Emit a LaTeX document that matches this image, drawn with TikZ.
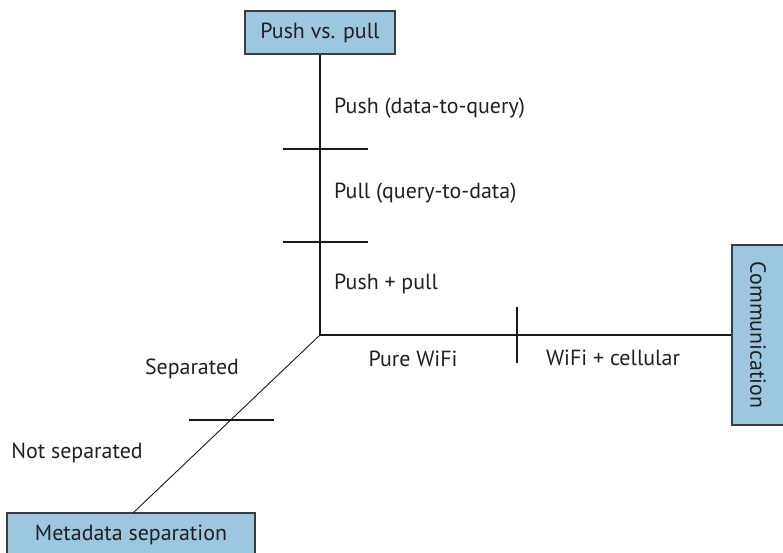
\documentclass[tikz,border=0pt]{standalone}
\usepackage{fontspec}
\setmainfont{PT Sans}
\definecolor{boxblue}{RGB}{156,199,222}
\definecolor{boxline}{RGB}{60,60,60}
\definecolor{txt}{RGB}{35,31,32}
\begin{document}
\begin{tikzpicture}[x=1bp,y=-1bp,
  box/.style={draw=boxline, line width=1.2bp, fill=boxblue, inner sep=0pt, text=txt, font=\fontsize{22}{26}\selectfont},
  lbl/.style={inner sep=0pt, text=txt, font=\fontsize{22}{26}\selectfont},
  axis/.style={line width=1.7bp, draw=black!90},
  diag/.style={line width=0.9bp, draw=black!90}]
\useasboundingbox (0,0) rectangle (783,553);
\node[box, minimum width=150bp, minimum height=43bp] (pp) at (320,32.5) {Push vs. pull};
\node[box, minimum width=52bp, minimum height=180bp] (comm) at (758,335) {\rotatebox{-90}{Communication}};
\node[box, minimum width=248bp, minimum height=43bp] (meta) at (131,534.5) {Metadata separation};
\coordinate (o) at (320,335);
\coordinate (d) at (133,513);
\draw[axis] (pp.south) -- (o);
\draw[axis] (o) -- (comm.west);
\draw[diag] (o) -- (d);
% ticks
\coordinate (t1a) at (283,149); \coordinate (t1b) at (368,149);
\coordinate (t2a) at (283,242); \coordinate (t2b) at (368,242);
\coordinate (t3a) at (517,307); \coordinate (t3b) at (517,363);
\coordinate (t4a) at (189,420); \coordinate (t4b) at (274,420);
\draw[axis] (t1a) -- (t1b);
\draw[axis] (t2a) -- (t2b);
\draw[axis] (t3a) -- (t3b);
\draw[axis] (t4a) -- (t4b);
% labels
\node[lbl, anchor=west] (l1) at (334,108) {Push (data-to-query)};
\node[lbl, anchor=west] (l2) at (334,193) {Pull (query-to-data)};
\node[lbl, anchor=west] (l3) at (334,284) {Push + pull};
\node[lbl] (l4) at (413,359) {Pure WiFi};
\node[lbl] (l5) at (613,358) {WiFi + cellular};
\node[lbl] (l6) at (192,369) {Separated};
\node[lbl] (l7) at (77,453) {Not separated};
\end{tikzpicture}
\end{document}
